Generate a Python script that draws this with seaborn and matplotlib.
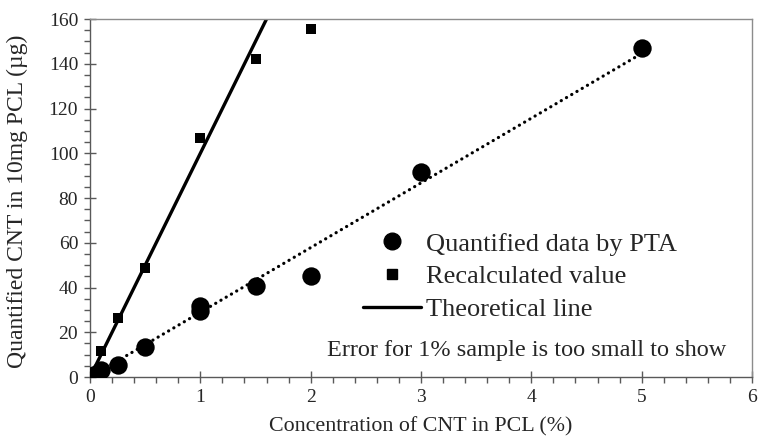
import numpy as np
import matplotlib
matplotlib.use("Agg")
import matplotlib.pyplot as plt
import seaborn as sns
from matplotlib.lines import Line2D
from matplotlib.ticker import MultipleLocator

# Quantified CNT content by PTA (circles)
pta_conc = [0, 0.05, 0.1, 0.25, 0.5, 1, 1, 1.5, 2, 3, 5]
pta_cnt = [0.5, 1.5, 3.2, 5.2, 13.3, 31.7, 29.4, 40.7, 45.1, 91.5, 147.2]

# Recalculated values (squares)
recalc_conc = [0.1, 0.25, 0.5, 1, 1.5, 2]
recalc_cnt = [11.5, 26.3, 48.6, 107, 142, 155.5]

# Theoretical line: 1 % of 10 mg PCL = 100 ug
theory_conc = [0, 1.6]
theory_cnt = [0, 160]

legend_labels = ["Quantified data by PTA", "Recalculated value", "Theoretical line"]
note_text = "Error for 1% sample is too small to show"
x_label = "Concentration of CNT in PCL (%)"
y_label = "Quantified CNT in 10mg PCL (\u00b5g)"

sns.set_style("white")
plt.rcParams["font.family"] = ["Liberation Serif", "DejaVu Serif"]

fig = plt.figure(figsize=(7.59, 4.42), dpi=100)
ax = fig.add_axes([0.1186, 0.147, 0.8722, 0.810])

# Least-squares trend through the origin for the PTA data
px = np.asarray(pta_conc)
py = np.asarray(pta_cnt)
slope = float((px * py).sum() / (px * px).sum())
trend_x = np.array([0.0, max(pta_conc)])
sns.lineplot(x=trend_x, y=slope * trend_x, ax=ax, color="black", lw=2.3,
             linestyle=(0, (0.05, 1.85)), dash_capstyle="round")

sns.lineplot(x=theory_conc, y=theory_cnt, ax=ax, color="black", lw=2.4)

sns.scatterplot(x=pta_conc, y=pta_cnt, ax=ax, marker="o", s=175,
                color="black", edgecolor="black", linewidth=0, zorder=4)
sns.scatterplot(x=recalc_conc, y=recalc_cnt, ax=ax, marker="s", s=60,
                color="black", edgecolor="black", linewidth=0, zorder=4)

ax.set_xlim(0, 6)
ax.set_ylim(0, 160)
ax.xaxis.set_major_locator(MultipleLocator(1))
ax.xaxis.set_minor_locator(MultipleLocator(0.2))
ax.yaxis.set_major_locator(MultipleLocator(20))
ax.yaxis.set_minor_locator(MultipleLocator(5))

axis_col = "#595959"
for side in ["left", "bottom"]:
    ax.spines[side].set_color(axis_col)
    ax.spines[side].set_linewidth(1.0)
for side in ["top", "right"]:
    ax.spines[side].set_color("#8c8c8c")
    ax.spines[side].set_linewidth(1.0)

ax.tick_params(which="major", direction="inout", length=9, width=1.0,
               color=axis_col, labelsize=14, labelcolor="#262626", pad=4)
ax.tick_params(which="minor", direction="out", length=4.5, width=1.0,
               color=axis_col)
ax.tick_params(axis="x", which="both", bottom=True, top=False)
ax.tick_params(axis="y", which="both", left=True, right=False)

ax.set_xlabel(x_label, fontsize=15.8, color="#262626", labelpad=8)
ax.set_ylabel(y_label, fontsize=17, color="#262626")
ax.yaxis.set_label_coords(-0.093, 0.49)

handles = [
    Line2D([], [], marker="o", linestyle="none", color="black", markersize=12),
    Line2D([], [], marker="s", linestyle="none", color="black", markersize=7.5),
    Line2D([], [], color="black", lw=2.4),
]
ax.legend(handles, legend_labels, loc="upper left", bbox_to_anchor=(0.412, 0.405),
          frameon=False, fontsize=19, handlelength=2.2, handletextpad=0.2,
          labelspacing=0.36, borderpad=0, borderaxespad=0)

ax.text(0.659, 0.075, note_text, transform=ax.transAxes, ha="center",
        va="center", fontsize=17.5, color="#262626")

fig.savefig("out.png", dpi=100)
